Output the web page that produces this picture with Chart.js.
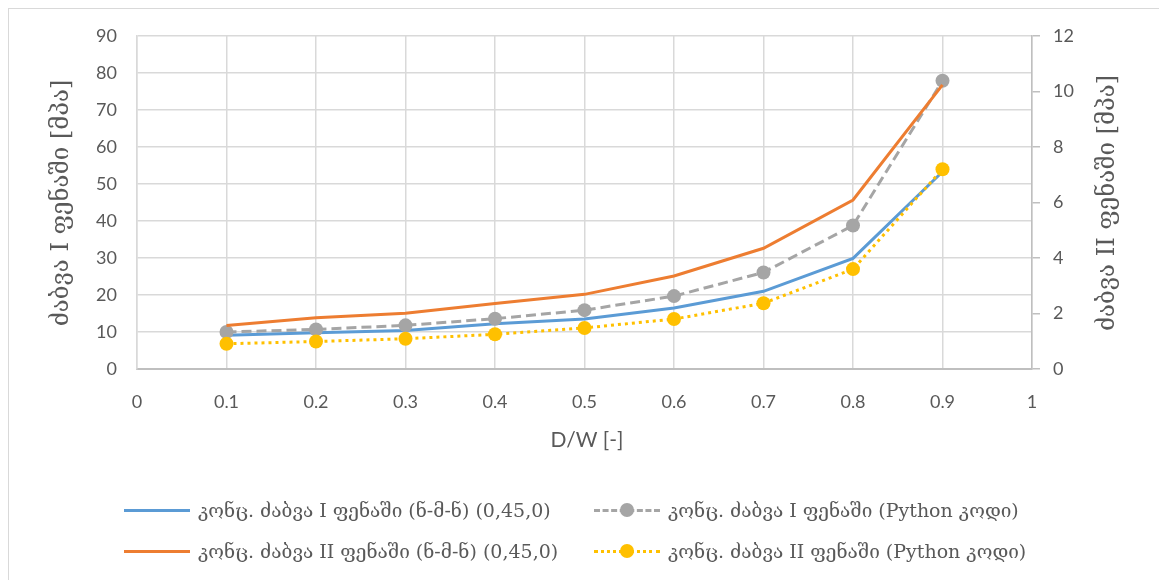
<!DOCTYPE html>
<html>
<head>
<meta charset="utf-8">
<script src="https://cdn.jsdelivr.net/npm/chart.js@4.4.1/dist/chart.umd.min.js"></script>
<style>
  html, body { margin:0; padding:0; background:#fff; }
  #wrap { position:relative; width:1159px; height:580px; overflow:hidden; }
  #frame { position:absolute; left:8px; top:8px; width:1200px; height:600px; border-left:1.5px solid #d9d9d9; border-top:1.5px solid #d9d9d9; }
  #c { position:absolute; left:0; top:0; }
  .lg { position:absolute; height:20px; display:flex; align-items:center; font-family:'DejaVu Serif', serif; font-size:19px; color:#595959; white-space:nowrap; }
  .smp { position:relative; width:66px; height:20px; margin-right:8px; }
  .smp .ln { position:absolute; left:0; right:0; top:9px; height:0; }
  .smp .dot { position:absolute; left:26px; top:3px; width:14px; height:14px; border-radius:50%; }
</style>
</head>
<body>
<div id="wrap">
  <div id="frame"></div>
  <canvas id="c" width="1159" height="580"></canvas>
  <div id="legend"></div>
</div>
<script>
// D/W values
const dw = [0.1, 0.2, 0.3, 0.4, 0.5, 0.6, 0.7, 0.8, 0.9]
// layer I (left axis)
const femLayer1 = [9.1, 9.8, 10.4, 12.2, 13.5, 16.5, 21.0, 29.9, 53.3]
const pyLayer1 = [10.0, 10.7, 11.8, 13.6, 15.9, 19.7, 26.1, 38.8, 77.9]
// layer II (right axis)
const femLayer2 = [1.57, 1.85, 2.01, 2.36, 2.69, 3.35, 4.35, 6.09, 10.24]
const pyLayer2 = [0.91, 0.99, 1.09, 1.25, 1.48, 1.80, 2.37, 3.60, 7.20]

const xTickLabels = ['0','0.1','0.2','0.3','0.4','0.5','0.6','0.7','0.8','0.9','1']
const seriesNames = [
  'კონც. ძაბვა I ფენაში (ნ-მ-ნ) (0,45,0)',
  'კონც. ძაბვა I ფენაში (Python კოდი)',
  'კონც. ძაბვა II ფენაში (ნ-მ-ნ) (0,45,0)',
  'კონც. ძაბვა II ფენაში (Python კოდი)'
]
const leftTitle = 'ძაბვა I ფენაში [მპა]'
const rightTitle = 'ძაბვა II ფენაში [მპა]'
const xTitle = 'D/W [-]'

const txt = '#595959'
const tickFont = { family:"Lato, 'Open Sans', sans-serif", size:18 }
const pts = arr => arr.map((v, i) => ({ x: dw[i], y: v }))

const titles = {
  id:'titles',
  afterDraw(chart) {
    const ctx = chart.ctx
    ctx.save()
    ctx.fillStyle = txt
    ctx.textAlign = 'center'
    ctx.textBaseline = 'middle'
    ctx.font = "24px 'DejaVu Serif', serif"
    ctx.translate(62, 203); ctx.rotate(-Math.PI/2); ctx.fillText(leftTitle, 0, 0)
    ctx.setTransform(1,0,0,1,0,0)
    ctx.translate(1108, 203); ctx.rotate(-Math.PI/2); ctx.fillText(rightTitle, 0, 0)
    ctx.setTransform(1,0,0,1,0,0)
    ctx.font = "21px Lato, 'Open Sans', sans-serif"
    ctx.fillText(xTitle, 587, 440)
    ctx.restore()
  }
}

const chart = new Chart(document.getElementById('c'), {
  type:'line',
  data:{ datasets:[
    { label:seriesNames[0], data:pts(femLayer1), yAxisID:'y', borderColor:'#5b9bd5', borderWidth:3, pointRadius:0, order:4 },
    { label:seriesNames[1], data:pts(pyLayer1), yAxisID:'y', borderColor:'#a5a5a5', backgroundColor:'#a5a5a5', borderWidth:3, borderDash:[10,5], pointRadius:7, pointBorderWidth:0, order:3 },
    { label:seriesNames[2], data:pts(femLayer2), yAxisID:'y2', borderColor:'#ed7d31', borderWidth:3, pointRadius:0, order:2 },
    { label:seriesNames[3], data:pts(pyLayer2), yAxisID:'y2', borderColor:'#ffc000', backgroundColor:'#ffc000', borderWidth:3, borderDash:[3,4], pointRadius:7, pointBorderWidth:0, order:1 }
  ]},
  options:{
    responsive:false, devicePixelRatio:1, animation:false,
    layout:{ padding:{ top:36, left:0, right:0, bottom:0 } },
    plugins:{ legend:{ display:false }, tooltip:{ enabled:false } },
    elements:{ line:{ tension:0, fill:false } },
    scales:{
      x:{ type:'linear', min:0, max:1,
        afterFit(s){ s.height = 211 },
        afterBuildTicks(s){ s.ticks = xTickLabels.map((_, i) => ({ value: i/10 })) },
        ticks:{ color:txt, font:tickFont, padding:22, maxRotation:0, autoSkip:false, callback:(v, i) => xTickLabels[i] },
        grid:{ color:'#d9d9d9', lineWidth:1.5, drawTicks:false },
        border:{ color:'#bfbfbf', width:2 } },
      y:{ position:'left', min:0, max:90,
        afterFit(s){ s.width = 137 },
        ticks:{ stepSize:10, color:txt, font:tickFont, padding:20 },
        grid:{ color:'#d9d9d9', lineWidth:1.5, drawTicks:false },
        border:{ color:'#d9d9d9', width:1.5 } },
      y2:{ position:'right', min:0, max:12,
        afterFit(s){ s.width = 127 },
        ticks:{ stepSize:2, color:txt, font:tickFont, padding:13 },
        grid:{ drawOnChartArea:false, color:'#bfbfbf', lineWidth:1.5, tickLength:8 },
        border:{ color:'#bfbfbf', width:1.5 } }
    }
  },
  plugins:[titles]
})

// legend: two rows, two columns
const legendItems = [
  { name:seriesNames[0], color:'#5b9bd5', style:'solid', dot:false, left:124, top:500 },
  { name:seriesNames[1], color:'#a5a5a5', style:'dashed', dot:true, left:594, top:500 },
  { name:seriesNames[2], color:'#ed7d31', style:'solid', dot:false, left:124, top:541 },
  { name:seriesNames[3], color:'#ffc000', style:'dotted', dot:true, left:594, top:541 }
]
const lg = document.getElementById('legend')
legendItems.forEach(it => {
  const d = document.createElement('div')
  d.className = 'lg'
  d.style.left = it.left + 'px'
  d.style.top = it.top + 'px'
  const s = document.createElement('div')
  s.className = 'smp'
  const l = document.createElement('div')
  l.className = 'ln'
  l.style.borderTop = '3px ' + it.style + ' ' + it.color
  s.appendChild(l)
  if (it.dot) {
    const c = document.createElement('div')
    c.className = 'dot'
    c.style.background = it.color
    s.appendChild(c)
  }
  d.appendChild(s)
  const t = document.createElement('span')
  t.textContent = it.name
  d.appendChild(t)
  lg.appendChild(d)
})
</script>
</body>
</html>
